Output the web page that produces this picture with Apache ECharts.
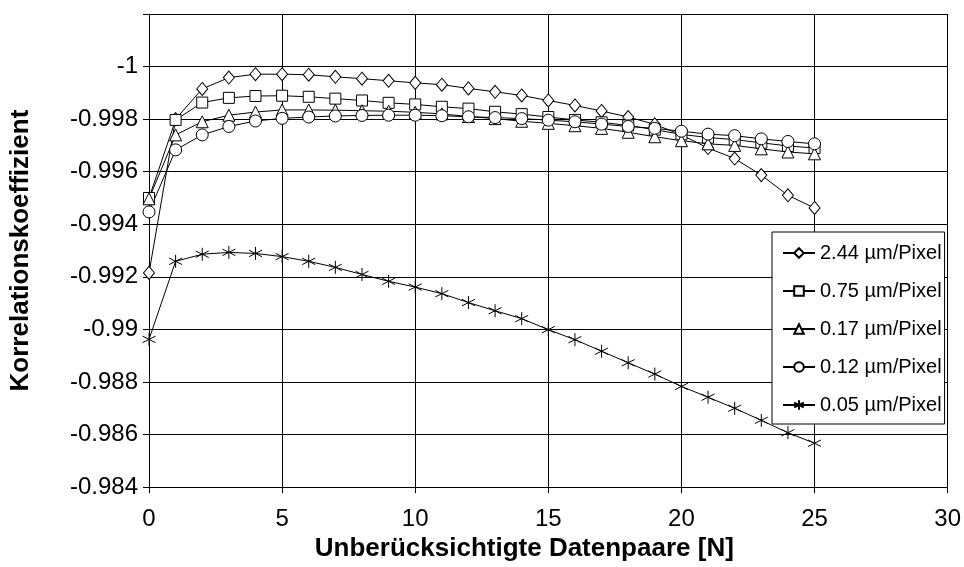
<!DOCTYPE html>
<html>
<head>
<meta charset="utf-8">
<script src="https://cdn.jsdelivr.net/npm/echarts@6/dist/echarts.min.js"></script>
<style>
  html, body { margin: 0; padding: 0; background: #fff; }
  #chart { width: 964px; height: 567px; }
</style>
</head>
<body>
<div id="chart"></div>
<script>
// Number of ignored data pairs (x axis)
const pairs = [0,1,2,3,4,5,6,7,8,9,10,11,12,13,14,15,16,17,18,19,20,21,22,23,24,25];

// Correlation coefficient per resolution
const res244 = [-0.99215,-0.99800,-0.99915,-0.99958,-0.99971,-0.99971,-0.99969,-0.99961,-0.99954,-0.99946,
  -0.99938,-0.99931,-0.99917,-0.99904,-0.99890,-0.99871,-0.99852,-0.99831,-0.99808,-0.99780,
  -0.99740,-0.99690,-0.99650,-0.99587,-0.99510,-0.99462];
const res075 = [-0.99500,-0.99797,-0.99863,-0.99881,-0.99888,-0.99889,-0.99885,-0.99878,-0.99871,-0.99862,
  -0.99856,-0.99847,-0.99840,-0.99828,-0.99819,-0.99808,-0.99797,-0.99788,-0.99776,-0.99760,
  -0.99742,-0.99730,-0.99722,-0.99710,-0.99698,-0.99690];
const res017 = [-0.99497,-0.99740,-0.99790,-0.99815,-0.99827,-0.99835,-0.99835,-0.99834,-0.99832,-0.99830,
  -0.99826,-0.99820,-0.99810,-0.99802,-0.99792,-0.99784,-0.99775,-0.99765,-0.99750,-0.99733,
  -0.99718,-0.99706,-0.99700,-0.99687,-0.99675,-0.99668];
const res012 = [-0.99447,-0.99683,-0.99740,-0.99772,-0.99793,-0.99803,-0.99808,-0.99812,-0.99814,-0.99815,
  -0.99815,-0.99813,-0.99809,-0.99806,-0.99802,-0.99796,-0.99790,-0.99781,-0.99772,-0.99765,
  -0.99754,-0.99743,-0.99737,-0.99725,-0.99715,-0.99706];
const res005 = [-0.98962,-0.99259,-0.99286,-0.99293,-0.99289,-0.99277,-0.99259,-0.99236,-0.99209,-0.99183,
  -0.99161,-0.99136,-0.99102,-0.99071,-0.99041,-0.98999,-0.98961,-0.98917,-0.98873,-0.98830,
  -0.98783,-0.98742,-0.98700,-0.98654,-0.98607,-0.98567];

const seriesNames = ['2.44 µm/Pixel','0.75 µm/Pixel','0.17 µm/Pixel','0.12 µm/Pixel','0.05 µm/Pixel'];

// Axis ranges
const xMin = 0, xMax = 30, xStep = 5;
const yMin = -1.002, yMax = -0.984, yStep = 0.002;

const FONT = 'Liberation Sans, Arial, sans-serif';
// six-armed star marker with a small centre dot
const asterisk = 'path://M5,0L5,10M0.7,2.5L9.3,7.5M0.7,7.5L9.3,2.5M4.3,5L5.7,5';

function mk(name, values, symbol, size) {
  return {
    name: name,
    type: 'line',
    data: pairs.map((p, i) => [p, values[i]]),
    symbol: symbol,
    symbolSize: size,
    showAllSymbol: true,
    lineStyle: { color: '#000', width: 1 },
    itemStyle: { color: '#fff', borderColor: '#000', borderWidth: 1 },
    emphasis: { disabled: true }
  };
}

const chart = echarts.init(document.getElementById('chart'), null, { renderer: 'canvas' });
chart.setOption({
  animation: false,
  backgroundColor: '#fff',
  textStyle: { fontFamily: FONT, color: '#000' },
  grid: { left: 137, right: 15, top: 14, bottom: 74, containLabel: false },
  xAxis: {
    type: 'value', min: xMin, max: xMax, interval: xStep,
    name: 'Unberücksichtigte Datenpaare [N]',
    nameLocation: 'middle', nameGap: 40,
    nameTextStyle: { fontFamily: FONT, fontSize: 26, fontWeight: 'bold', color: '#000', padding: [0, 48, 0, 0] },
    axisLine: { onZero: false, lineStyle: { color: '#000', width: 1 } },
    axisTick: { show: true, inside: false, length: 6, lineStyle: { color: '#000' } },
    axisLabel: { fontFamily: FONT, fontSize: 24, color: '#000', margin: 20 },
    splitLine: { show: true, lineStyle: { color: '#000', width: 1 } }
  },
  yAxis: {
    type: 'value', inverse: true, min: yMin, max: yMax, interval: yStep,
    name: 'Korrelationskoeffizient',
    nameLocation: 'middle', nameGap: 115, nameRotate: 90,
    nameTextStyle: { fontFamily: FONT, fontSize: 26, fontWeight: 'bold', color: '#000' },
    axisLine: { lineStyle: { color: '#000', width: 1 } },
    axisTick: { show: true, inside: false, length: 6, lineStyle: { color: '#000' } },
    axisLabel: {
      fontFamily: FONT, fontSize: 24, color: '#000', margin: 11,
      formatter: v => Math.abs(v - yMin) < 1e-9 ? '' : String(parseFloat(v.toFixed(3)))
    },
    splitLine: { show: true, lineStyle: { color: '#000', width: 1 } }
  },
  legend: {
    orient: 'vertical',
    left: 772, top: 232,
    padding: [10, 3, 8, 10],
    itemGap: 16,
    itemWidth: 32, itemHeight: 12,
    backgroundColor: '#fff',
    borderColor: '#000', borderWidth: 1,
    textStyle: { fontFamily: FONT, fontSize: 20, color: '#000', lineHeight: 22 },
    data: seriesNames
  },
  series: [
    mk(seriesNames[0], res244, 'diamond', [11, 13]),
    mk(seriesNames[1], res075, 'rect', 11),
    mk(seriesNames[2], res017, 'triangle', 12),
    mk(seriesNames[3], res012, 'circle', 12),
    mk(seriesNames[4], res005, asterisk, 13)
  ]
});
</script>
</body>
</html>
